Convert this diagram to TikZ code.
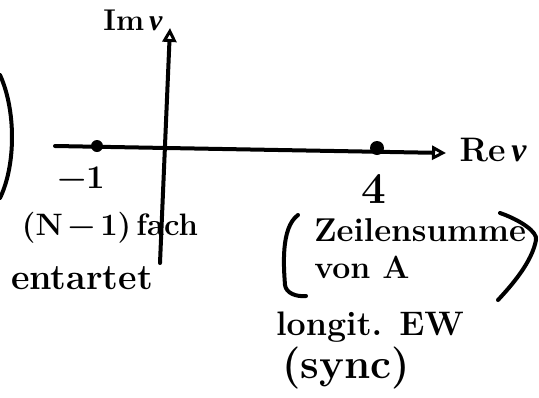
\documentclass[tikz,border=0pt]{standalone}
\usepackage{fontspec}
\newfontfamily\grk{Liberation Serif}
\usetikzlibrary{arrows.meta}
\begin{document}
\begin{tikzpicture}[x=1pt,y=-1pt,line width=4pt,line cap=round,line join=round,
  hand/.style={font=\fontsize{#1}{#1}\selectfont\bfseries,inner sep=0pt},
  opentip/.style={-{Triangle[open,length=14pt,width=14pt,line width=3pt]}}]
\useasboundingbox (0,0) rectangle (539,397);
% left arc
\coordinate (la) at (0,75);
\coordinate (lb) at (0,198);
\draw (la) .. controls (16,110) and (16,165) .. (lb);
% axes
\coordinate (xs) at (55,146);
\coordinate (xe) at (446,153);
\coordinate (ys) at (160,263);
\coordinate (ye) at (170,28);
\draw[opentip] (xs) -- (xe);
\draw[opentip] (ys) -- (ye);
% points
\fill (97,146) circle (6pt) coordinate (pm);
\fill (377,148) circle (7pt) coordinate (p4);
% labels
\node[hand=30] (im) at (133,20) {Im\,{\grk\itshape ν}};
\node[hand=34] (re) at (493,150) {Re\,{\grk\itshape ν}};
\node[hand=33] (m1) at (81,178) {−1};
\node[hand=44] (f4) at (374,189) {4};
\node[hand=31] (nf) at (110,228) {(N\,−\,1)\,fach};
\node[hand=36] (ent) at (82,278) {entartet};
\node[hand=33] (zs) at (420,230) {Zeilensumme};
\node[hand=32] (va) at (362,267) {von A};
\node[hand=34] (lo) at (370,327) {longit. EW};
\node[hand=42] (sy) at (346,368) {(sync)};
% parentheses around Zeilensumme von A
\coordinate (pa) at (298,215);
\coordinate (pb) at (306,296);
\draw (pa) .. controls (280,228) and (284,270) .. (285,285) .. controls (286,293) and (296,297) .. (pb);
\coordinate (qa) at (500,213);
\coordinate (qb) at (498,300);
\draw (qa) .. controls (520,220) and (538,232) .. (536,240) .. controls (532,262) and (512,285) .. (qb);
\end{tikzpicture}
\end{document}
